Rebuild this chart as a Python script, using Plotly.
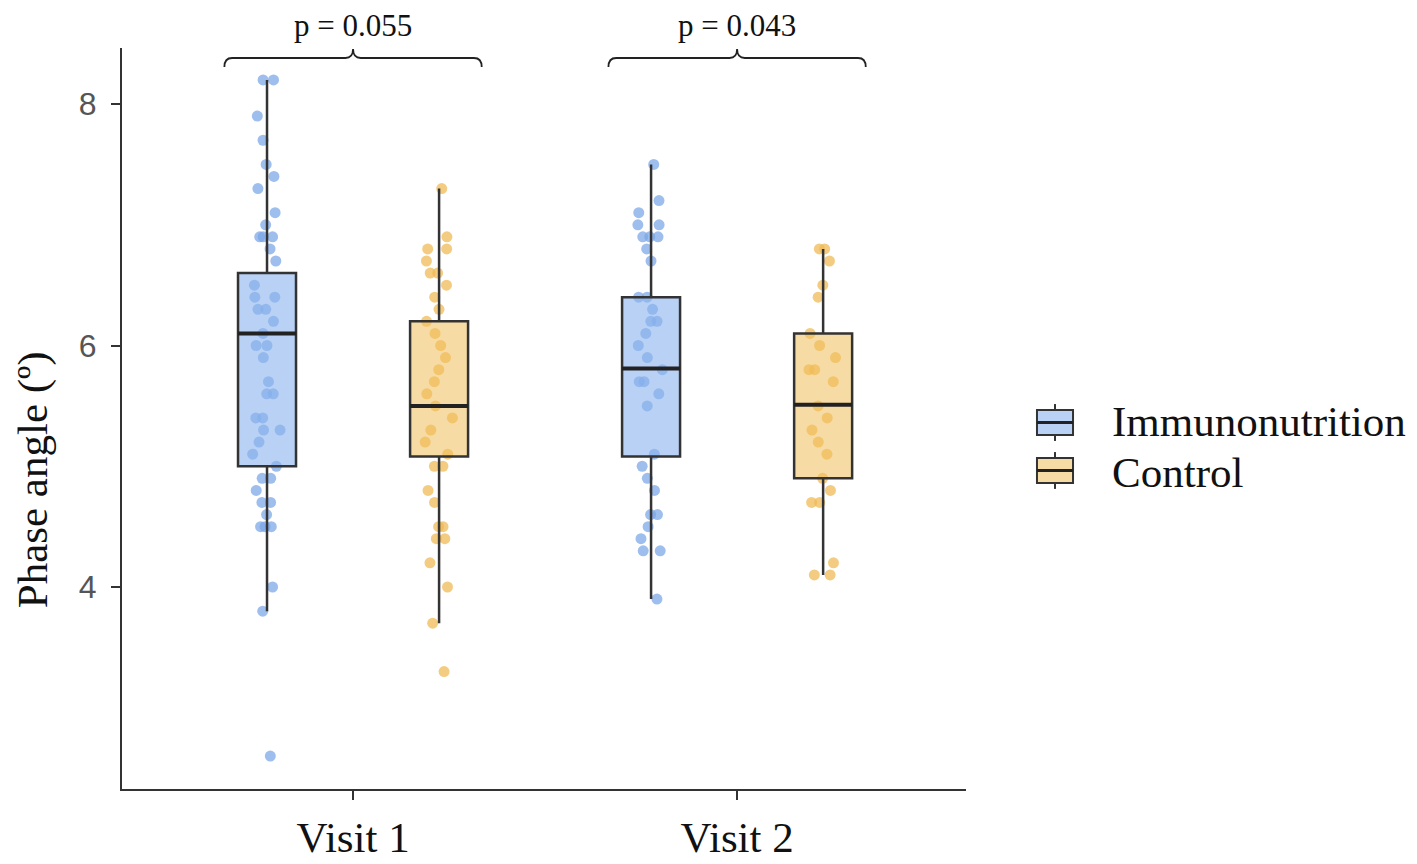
import plotly.graph_objects as go

# categories and groups
visits = ["Visit 1", "Visit 2"]
groups = ["Immunonutrition", "Control"]
p_values = ["p = 0.055", "p = 0.043"]

# individual phase angle values
immuno_v1 = [8.2, 8.2, 7.9, 7.7, 7.5, 7.4, 7.3, 7.1, 7.0, 6.9, 6.9, 6.9, 6.8, 6.7,
             6.5, 6.4, 6.4, 6.3, 6.3, 6.2, 6.1, 6.0, 6.0, 5.9, 5.7, 5.6, 5.6, 5.4,
             5.4, 5.3, 5.3, 5.2, 5.1, 5.0, 4.9, 4.9, 4.8, 4.7, 4.7, 4.6, 4.5, 4.5,
             4.5, 4.0, 3.8, 2.6]
control_v1 = [7.3, 6.9, 6.8, 6.8, 6.7, 6.6, 6.6, 6.5, 6.4, 6.3, 6.2, 6.1, 6.0, 5.9,
              5.8, 5.7, 5.6, 5.5, 5.4, 5.3, 5.2, 5.1, 5.0, 5.0, 4.8, 4.7, 4.5, 4.5,
              4.4, 4.4, 4.2, 4.0, 3.7, 3.3]
immuno_v2 = [7.5, 7.2, 7.1, 7.0, 7.0, 6.9, 6.9, 6.9, 6.8, 6.7, 6.4, 6.4, 6.3, 6.2,
             6.2, 6.1, 6.0, 5.9, 5.8, 5.7, 5.7, 5.6, 5.5, 5.1, 5.0, 4.9, 4.8, 4.6,
             4.6, 4.5, 4.4, 4.3, 4.3, 3.9]
control_v2 = [6.8, 6.8, 6.7, 6.5, 6.4, 6.1, 6.0, 5.9, 5.8, 5.8, 5.7, 5.5, 5.4, 5.3,
              5.2, 5.1, 4.9, 4.8, 4.7, 4.7, 4.2, 4.1, 4.1]

# box statistics per group: [Visit 1, Visit 2]
immuno_q1 = [5.0, 5.08]
immuno_med = [6.1, 5.81]
immuno_q3 = [6.6, 6.4]
immuno_lo = [3.8, 3.9]
immuno_hi = [8.2, 7.5]
control_q1 = [5.08, 4.9]
control_med = [5.5, 5.51]
control_q3 = [6.2, 6.1]
control_lo = [3.7, 4.1]
control_hi = [7.3, 6.8]

point_col = {"Immunonutrition": "rgba(120,165,232,0.72)", "Control": "rgba(238,184,80,0.72)"}
fill_col = {"Immunonutrition": "rgba(140,180,238,0.62)", "Control": "rgba(240,190,90,0.55)"}
offset = {"Immunonutrition": -0.224, "Control": 0.224}
box_w = 0.151
edge = "#333333"
serif = "Liberation Serif"

samples = {"Immunonutrition": [immuno_v1, immuno_v2], "Control": [control_v1, control_v2]}
stats = {
    "Immunonutrition": (immuno_q1, immuno_med, immuno_q3, immuno_lo, immuno_hi),
    "Control": (control_q1, control_med, control_q3, control_lo, control_hi),
}

fig = go.Figure()

# jittered points first (boxes are drawn on top of them)
for g in groups:
    for i, vals in enumerate(samples[g]):
        fig.add_trace(go.Box(
            y=vals, x0=i + offset[g], width=box_w,
            boxpoints="all", jitter=0.55, pointpos=0,
            marker=dict(color=point_col[g], size=11),
            line=dict(color="rgba(0,0,0,0)", width=0),
            fillcolor="rgba(0,0,0,0)",
            showlegend=False, hoverinfo="y",
        ))

for g in groups:
    q1, med, q3, lo, hi = stats[g]
    xs = [i + offset[g] for i in range(len(visits))]
    fig.add_trace(go.Box(
        x=xs, q1=q1, median=med, q3=q3, lowerfence=lo, upperfence=hi,
        width=box_w, whiskerwidth=0, boxpoints=False,
        fillcolor=fill_col[g], line=dict(color=edge, width=2.5),
        name=g, showlegend=False,
    ))
    # thicker median bars, as in the original
    for x, m in zip(xs, med):
        fig.add_trace(go.Scatter(
            x=[x - box_w / 2, x + box_w / 2], y=[m, m], mode="lines",
            line=dict(color="#222222", width=4), showlegend=False, hoverinfo="skip",
        ))

# significance brackets
half = 0.335
y_bar, y_end, y_tip = 8.381, 8.306, 8.455
for i, p in enumerate(p_values):
    l, r = i - half, i + half
    path = (f"M {l},{y_end} Q {l},{y_bar} {l + 0.02},{y_bar} "
            f"L {i - 0.02},{y_bar} Q {i},{y_bar} {i},{y_tip} "
            f"Q {i},{y_bar} {i + 0.02},{y_bar} "
            f"L {r - 0.02},{y_bar} Q {r},{y_bar} {r},{y_end}")
    fig.add_shape(type="path", path=path, xref="x", yref="y",
                  line=dict(color="#222222", width=1.8))
    fig.add_annotation(x=i, y=y_tip, xref="x", yref="y", text=p, showarrow=False,
                       yanchor="middle", yshift=24,
                       font=dict(family=serif, size=31, color="#111111"))

# legend drawn by hand so the box glyphs have the original size
leg_x0, leg_x1, leg_text_x = 1.0841, 1.1268, 1.1706
leg_rows = {"Immunonutrition": (0.5115, 0.4777, 0.4953), "Control": (0.4467, 0.4130, 0.4278)}
stub = 0.008
for g in groups:
    top, bot, mid = leg_rows[g]
    xc = (leg_x0 + leg_x1) / 2
    fig.add_shape(type="line", xref="paper", yref="paper", x0=xc, x1=xc,
                  y0=top, y1=top + stub, line=dict(color=edge, width=2))
    fig.add_shape(type="line", xref="paper", yref="paper", x0=xc, x1=xc,
                  y0=bot, y1=bot - stub, line=dict(color=edge, width=2))
    fig.add_shape(type="rect", xref="paper", yref="paper", x0=leg_x0, x1=leg_x1,
                  y0=bot, y1=top, fillcolor=fill_col[g], line=dict(color=edge, width=2))
    fig.add_shape(type="line", xref="paper", yref="paper", x0=leg_x0, x1=leg_x1,
                  y0=(top + bot) / 2, y1=(top + bot) / 2, line=dict(color="#222222", width=3))
    fig.add_annotation(x=leg_text_x, y=mid, xref="paper", yref="paper", text=g,
                       showarrow=False, xanchor="left", yanchor="middle",
                       font=dict(family=serif, size=43, color="#111111"))

# y-axis title sits a bit below the axis middle in the original
fig.add_annotation(x=-0.1055, y=0.418, xref="paper", yref="paper", text="Phase angle (º)",
                   textangle=-90, showarrow=False, xanchor="center", yanchor="middle",
                   font=dict(family=serif, size=43, color="#111111"))

fig.update_layout(
    width=1409, height=856,
    margin=dict(l=114, r=451, t=40, b=75),
    plot_bgcolor="white", paper_bgcolor="white",
    boxmode="overlay", showlegend=False,
)
fig.update_xaxes(
    range=[-0.6016, 1.596], tickvals=[0, 1], ticktext=visits, automargin=False,
    showline=True, linecolor=edge, linewidth=2, showgrid=False, zeroline=False,
    ticks="outside", ticklen=9, tickwidth=2, tickcolor=edge, ticklabelstandoff=0,
    tickfont=dict(family=serif, size=43, color="#111111"),
)
fig.update_yaxes(
    range=[2.327, 8.464], tickvals=[4, 6, 8], automargin=False,
    showline=True, linecolor=edge, linewidth=2, showgrid=False, zeroline=False,
    ticks="outside", ticklen=9, tickwidth=2, tickcolor=edge, ticklabelstandoff=8,
    tickfont=dict(family="Liberation Sans", size=32, color="#555555"),
)

fig.write_html("out.html")
